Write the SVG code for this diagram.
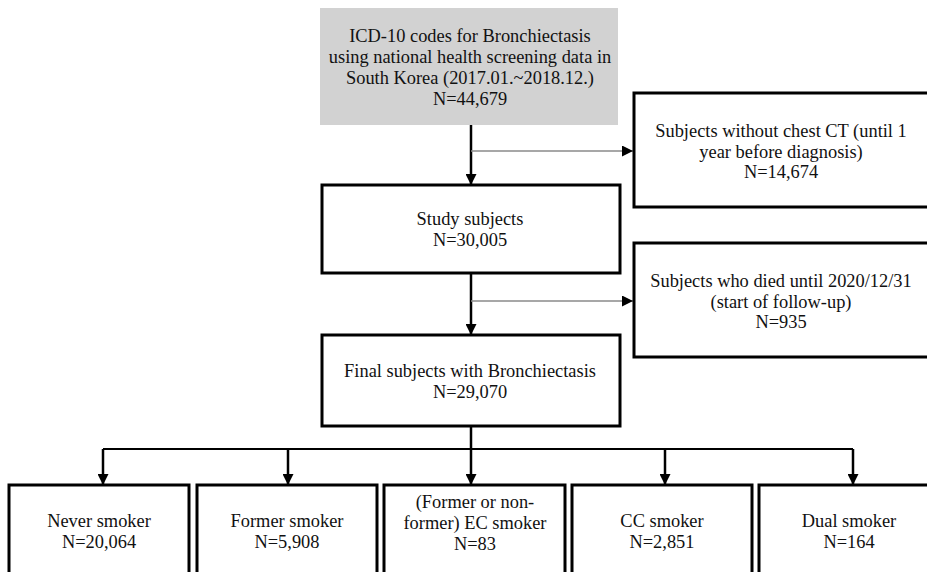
<svg xmlns="http://www.w3.org/2000/svg" width="927" height="572" viewBox="0 0 927 572">
<style>
text{font-family:"Liberation Serif","Times New Roman",serif;font-size:18.4px;fill:#111;text-anchor:middle}
.box{fill:#fff;stroke:#000;stroke-width:3}
.gray{fill:#d2d2d2;stroke:none}
.main{stroke:#000;stroke-width:2.5;fill:none}
.side{stroke:#8a8a8a;stroke-width:1.5;fill:none}
.bar{stroke:#000;stroke-width:1.8;fill:none}
</style>
<defs>
<marker id="ah" markerUnits="userSpaceOnUse" markerWidth="11" markerHeight="11" refX="11" refY="5.5" orient="auto" viewBox="0 0 11 11">
<path d="M0,0 L11,5.5 L0,11 z" fill="#000"/>
</marker>
</defs>
<g id="connectors">
<line class="main" x1="471" y1="125" x2="471" y2="185" marker-end="url(#ah)"/>
<line class="side" x1="471" y1="151" x2="633" y2="151" marker-end="url(#ah)"/>
<line class="main" x1="471" y1="273" x2="471" y2="335" marker-end="url(#ah)"/>
<line class="side" x1="471" y1="301" x2="633" y2="301" marker-end="url(#ah)"/>
<line class="main" x1="471" y1="426" x2="471" y2="449"/>
<line class="bar" x1="103" y1="449" x2="853" y2="449"/>
<line class="main" x1="103" y1="449" x2="103" y2="485" marker-end="url(#ah)"/>
<line class="main" x1="288" y1="449" x2="288" y2="485" marker-end="url(#ah)"/>
<line class="main" x1="471" y1="449" x2="471" y2="485" marker-end="url(#ah)"/>
<line class="main" x1="665" y1="449" x2="665" y2="485" marker-end="url(#ah)"/>
<line class="main" x1="853" y1="449" x2="853" y2="485" marker-end="url(#ah)"/>
</g>
<g id="source">
<rect class="gray" x="320" y="8" width="298" height="117"/>
<text x="470" y="42">ICD-10 codes for Bronchiectasis</text>
<text x="470" y="63">using national health screening data in</text>
<text x="470" y="84">South Korea (2017.01.~2018.12.)</text>
<text x="470" y="105">N=44,679</text>
</g>
<g id="excl1">
<rect class="box" x="634" y="93" width="300" height="114"/>
<text x="781" y="137">Subjects without chest CT (until 1</text>
<text x="781" y="157.5">year before diagnosis)</text>
<text x="781" y="178">N=14,674</text>
</g>
<g id="study">
<rect class="box" x="322" y="185" width="298" height="88"/>
<text x="470" y="225">Study subjects</text>
<text x="470" y="246">N=30,005</text>
</g>
<g id="excl2">
<rect class="box" x="634" y="243" width="300" height="114"/>
<text x="781" y="287">Subjects who died until 2020/12/31</text>
<text x="781" y="307.5">(start of follow-up)</text>
<text x="781" y="328">N=935</text>
</g>
<g id="final">
<rect class="box" x="322" y="335" width="298" height="91"/>
<text x="470" y="377">Final subjects with Bronchiectasis</text>
<text x="470" y="398">N=29,070</text>
</g>
<g id="never">
<rect class="box" x="9" y="485" width="180" height="100"/>
<text x="99" y="527">Never smoker</text>
<text x="99" y="548">N=20,064</text>
</g>
<g id="former">
<rect class="box" x="197" y="485" width="180" height="100"/>
<text x="287" y="527">Former smoker</text>
<text x="287" y="548">N=5,908</text>
</g>
<g id="ec">
<rect class="box" x="384" y="485" width="181" height="100"/>
<text x="475" y="508">(Former or non-</text>
<text x="475" y="529">former) EC smoker</text>
<text x="475" y="550">N=83</text>
</g>
<g id="cc">
<rect class="box" x="572" y="485" width="180" height="100"/>
<text x="662" y="527">CC smoker</text>
<text x="662" y="548">N=2,851</text>
</g>
<g id="dual">
<rect class="box" x="759" y="485" width="180" height="100"/>
<text x="849" y="527">Dual smoker</text>
<text x="849" y="548">N=164</text>
</g>
</svg>
